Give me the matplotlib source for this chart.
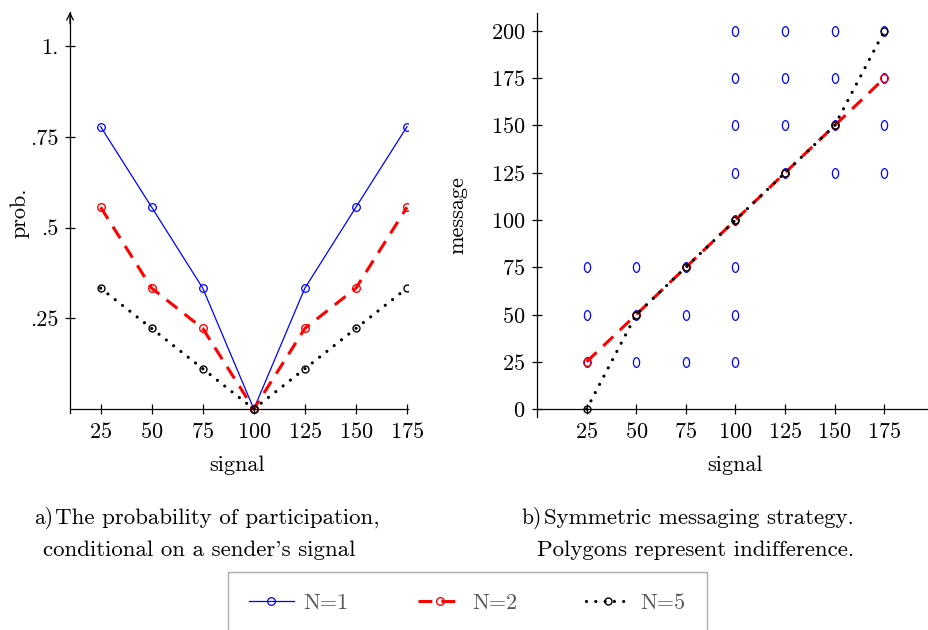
import matplotlib
matplotlib.use("Agg")
import matplotlib.pyplot as plt
from matplotlib.path import Path
from matplotlib.transforms import Affine2D

plt.rcParams["font.family"] = ["cmr10", "DejaVu Serif"]
plt.rcParams["mathtext.fontset"] = "cm"
plt.rcParams["axes.unicode_minus"] = False
plt.rcParams["axes.formatter.use_mathtext"] = True

# signal grid shared by both panels
signal = [25, 50, 75, 100, 125, 150, 175]

# panel a: participation probability by sender signal
prob_n1 = [0.778, 0.556, 0.333, 0.0, 0.333, 0.556, 0.778]
prob_n2 = [0.556, 0.333, 0.222, 0.0, 0.222, 0.333, 0.556]
prob_n5 = [0.333, 0.222, 0.111, 0.0, 0.111, 0.222, 0.333]
prob_ticks = [0.25, 0.5, 0.75, 1.0]
prob_ticklabels = [".25", ".5", ".75", "1."]

# panel b: messages sent for each signal
msg_n2 = [25, 50, 75, 100, 125, 150, 175]
msg_n5 = [0, 50, 75, 100, 125, 150, 200]
msg_ticks = [0, 25, 50, 75, 100, 125, 150, 175, 200]

# indifference points (N=1)
indiff_x = [25, 25, 25, 50, 50, 50, 75, 75, 75,
            100, 100, 100, 100, 100, 100, 100, 100,
            125, 125, 125, 125, 150, 150, 150, 150, 175, 175, 175, 175]
indiff_y = [25, 50, 75, 25, 50, 75, 25, 50, 75,
            25, 50, 75, 100, 125, 150, 175, 200,
            125, 150, 175, 200, 125, 150, 175, 200, 125, 150, 175, 200]

legend_labels = ["N=1", "N=2", "N=5"]

W, H = 929, 630
fig = plt.figure(figsize=(W / 100, H / 100), dpi=100)

ax_a = fig.add_axes([70 / W, (H - 413) / H, 338 / W, 401 / H])
ax_b = fig.add_axes([537 / W, (H - 417) / H, 391 / W, 404 / H])

style_n1 = dict(color="#0000ff", lw=0.9, marker="o", ms=5.5, mfc="none", mew=0.9)
style_n2 = dict(color="#ff0000", lw=2.2, ls=(0, (4.5, 3)), marker="o", ms=5.5,
                mfc="none", mew=1.0)
style_n5 = dict(color="black", lw=2.3, ls=(0, (0.01, 2.9)), dash_capstyle="round",
                marker="o", ms=5, mfc="none", mew=1.0)

h1, = ax_a.plot(signal, prob_n1, zorder=3, **style_n1)
h2, = ax_a.plot(signal, prob_n2, zorder=4, **style_n2)
h5, = ax_a.plot(signal, prob_n5, zorder=5, **style_n5)

ax_a.set_xlim(10, 175.5)
ax_a.set_ylim(-0.011, 1.094)
ax_a.set_xticks(signal)
ax_a.set_yticks(prob_ticks)
ax_a.set_yticklabels(prob_ticklabels)

# y axis arrow tip
ax_a.annotate("", xy=(0, 1.0), xytext=(0, 0.97), xycoords="axes fraction",
              arrowprops=dict(arrowstyle="->", lw=0.9, color="black",
                              shrinkA=0, shrinkB=0, mutation_scale=12))

# tall thin ellipse marker for indifference points
ellipse = Path.unit_circle().transformed(Affine2D().scale(0.64, 1.0))
ax_b.plot(indiff_x, indiff_y, ls="none", marker=ellipse, ms=7, mfc="none",
          mec="#0000ff", mew=0.9, zorder=2)
ax_b.plot(signal, msg_n2, zorder=4, **style_n2)
ax_b.plot(signal, msg_n5, zorder=5, **style_n5)

ax_b.set_xlim(0, 197)
ax_b.set_ylim(-4.2, 209.5)
ax_b.set_xticks(signal)
ax_b.set_yticks(msg_ticks)

for ax in (ax_a, ax_b):
    ax.spines["top"].set_visible(False)
    ax.spines["right"].set_visible(False)
    ax.spines["bottom"].set_position(("data", 0))
    ax.spines["left"].set_linewidth(0.9)
    ax.spines["bottom"].set_linewidth(0.9)
    ax.tick_params(direction="inout", length=7, width=0.9, labelsize=16, pad=5)
    ax.tick_params(axis="x", pad=6)
    ax.patch.set_alpha(0)

fig.text(20 / W, 1 - 213 / H, "prob.", rotation=90, ha="center", va="center",
         fontsize=16)
fig.text(237 / W, 1 - 465 / H, "signal", ha="center", va="center", fontsize=16)
fig.text(458 / W, 1 - 215 / H, "message", rotation=90, ha="center", va="center",
         fontsize=16)
fig.text(735 / W, 1 - 465 / H, "signal", ha="center", va="center", fontsize=16)

# captions
cap = dict(fontsize=16.5, va="center", ha="left")
fig.text(34 / W, 1 - 518 / H, "a)", fontsize=15.5, va="center", ha="left")
fig.text(55 / W, 1 - 518 / H, "The probability of participation,", **cap)
fig.text(43 / W, 1 - 550 / H, "conditional on a sender's signal", **cap)
fig.text(521 / W, 1 - 518 / H, "b)", fontsize=15.5, va="center", ha="left")
fig.text(544 / W, 1 - 518 / H, "Symmetric messaging strategy.", **cap)
fig.text(537 / W, 1 - 550 / H, "Polygons represent indifference.", **cap)

leg = fig.legend([h1, h2, h5], legend_labels, loc="upper center",
                 bbox_to_anchor=(467.5 / W, 1 - 572 / H), ncol=3, fontsize=16,
                 frameon=True, fancybox=False, edgecolor="#999999",
                 handlelength=2.0, handletextpad=0.45, columnspacing=3.1,
                 borderpad=0.95, borderaxespad=0)
leg.get_frame().set_linewidth(1.0)
for t in leg.get_texts():
    t.set_color("#555555")

fig.savefig("out.png", dpi=100)
